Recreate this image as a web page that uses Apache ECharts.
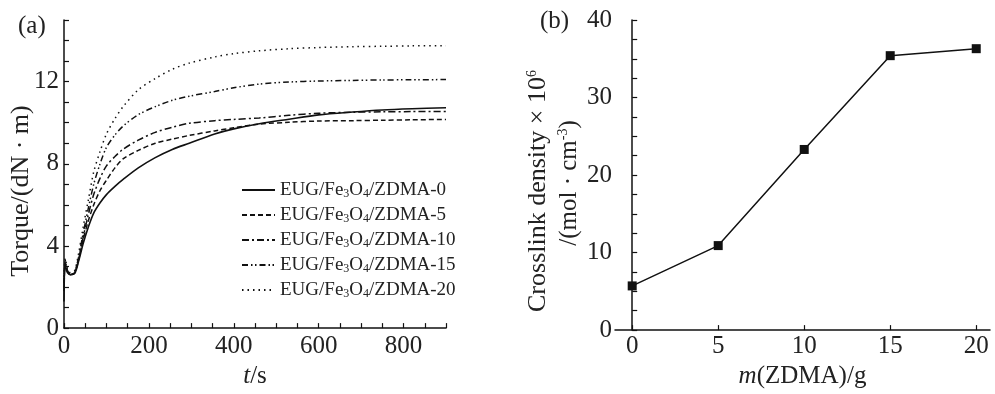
<!DOCTYPE html>
<html>
<head>
<meta charset="utf-8">
<script src="https://cdn.jsdelivr.net/npm/echarts@6/dist/echarts.min.js"></script>
<style>
  html, body { margin: 0; padding: 0; background: #fff; }
  #chart { width: 995px; height: 394px; }
</style>
</head>
<body>
<div id="chart"></div>
<script>
// panel (a): torque vs time
const timeS = [0, 3, 8, 15, 25, 35, 45, 57, 70, 85, 100, 120, 140, 175, 215, 255, 295, 355, 400, 460, 530, 600, 680, 750, 820, 900];
const torque0 = [1.3, 3.0, 2.7, 2.6, 2.65, 3.3, 4.1, 4.9, 5.6, 6.1, 6.5, 6.9, 7.25, 7.8, 8.3, 8.7, 9.0, 9.45, 9.7, 9.95, 10.17, 10.38, 10.52, 10.62, 10.68, 10.73];
const torque5 = [1.8, 3.1, 2.8, 2.6, 2.7, 3.4, 4.3, 5.2, 6.0, 6.7, 7.2, 7.8, 8.25, 8.65, 9.0, 9.2, 9.38, 9.6, 9.75, 9.93, 10.02, 10.08, 10.1, 10.12, 10.14, 10.16];
const torque10 = [2.0, 3.2, 2.8, 2.6, 2.7, 3.4, 4.4, 5.5, 6.5, 7.3, 7.9, 8.35, 8.72, 9.15, 9.53, 9.78, 9.97, 10.1, 10.16, 10.23, 10.36, 10.46, 10.51, 10.53, 10.54, 10.55];
const torque15 = [2.2, 3.3, 2.8, 2.6, 2.75, 3.5, 4.6, 5.8, 7.0, 8.0, 8.8, 9.4, 9.85, 10.39, 10.78, 11.09, 11.29, 11.52, 11.7, 11.88, 11.98, 12.03, 12.06, 12.08, 12.09, 12.1];
const torque20 = [2.5, 3.4, 2.9, 2.7, 2.8, 3.7, 4.9, 6.2, 7.6, 8.6, 9.45, 10.2, 10.8, 11.6, 12.15, 12.6, 12.9, 13.2, 13.36, 13.5, 13.6, 13.66, 13.7, 13.72, 13.74, 13.75];
const seriesNames = ["ZDMA-0", "ZDMA-5", "ZDMA-10", "ZDMA-15", "ZDMA-20"];

// panel (b): crosslink density vs ZDMA mass
const zdmaMass = [0, 5, 10, 15, 20];
const crosslink = [5.7, 10.9, 23.3, 35.4, 36.3];

const xTicksB = [0, 5, 10, 15, 20];

const FONT = "Liberation Serif";
const black = "#111";
const TXT = "#222";

const pair = (xs, ys) => xs.map((x, i) => [x, ys[i]]);

// dash patterns roughly like the printed figure
const dashes = ["solid", [5, 3], [7, 3, 2, 3], [6, 3, 1.5, 2.5, 1.5, 3], [1.5, 4]];
const allTorque = [torque0, torque5, torque10, torque15, torque20];

const lineSeries = seriesNames.map((n, i) => ({
  name: n,
  type: "line",
  xAxisIndex: 0,
  yAxisIndex: 0,
  symbol: "none",
  smooth: 0.3,
  data: pair(timeS, allTorque[i]),
  lineStyle: { color: black, width: i === 0 ? 1.6 : 1.5, type: dashes[i] },
  itemStyle: { color: black },
}));

const chart = echarts.init(document.getElementById("chart"), null, { renderer: "canvas" });

const axisCommon = {
  axisLine: { show: true, lineStyle: { color: black, width: 1.5 } },
  axisTick: { show: true, inside: true, length: 5, lineStyle: { color: black, width: 1.2 } },
  splitLine: { show: false },
  axisLabel: { color: TXT, fontFamily: FONT, fontSize: 25 },
};

const supStyle = { fontFamily: FONT, fontSize: 14, color: TXT, verticalAlign: "top", lineHeight: 14, padding: [0, 0, 9, 0] };

chart.setOption({
  animation: false,
  backgroundColor: "#fff",
  textStyle: { fontFamily: FONT },
  grid: [
    { left: 64, right: 549, top: 20, bottom: 54 },
    { left: 615, right: 5, top: 20, bottom: 54 },
  ],
  legend: {
    left: 236,
    top: 175,
    orient: "vertical",
    itemWidth: 33,
    itemHeight: 14,
    itemGap: 5,
    data: seriesNames,
    itemStyle: { opacity: 0, color: "transparent", borderWidth: 0 },
    formatter: (n) => "EUG/Fe{sub|3}O{sub|4}/" + n,
    textStyle: {
      color: TXT,
      fontFamily: FONT,
      fontSize: 19,
      lineHeight: 20,
      rich: {
        sub: { fontFamily: FONT, fontSize: 12, color: TXT, verticalAlign: "bottom", lineHeight: 14, padding: [6, 0, 0, 0] },
      },
    },
  },
  xAxis: [
    {
      ...axisCommon,
      type: "value",
      gridIndex: 0,
      min: 0,
      max: 900,
      interval: 50,
      axisLabel: { ...axisCommon.axisLabel, margin: 6, formatter: (v) => (v % 200 === 0 ? v : "") },
      name: "{i|t}/s",
      nameLocation: "middle",
      nameGap: 26,
      nameTextStyle: {
        color: TXT, fontFamily: FONT, fontSize: 25,
        rich: { i: { fontFamily: FONT, fontSize: 25, fontStyle: "italic", color: TXT } },
      },
    },
    {
      ...axisCommon,
      type: "value",
      gridIndex: 1,
      min: -1,
      max: 20.8,
      axisTick: { ...axisCommon.axisTick, customValues: xTicksB },
      axisLabel: { ...axisCommon.axisLabel, margin: 4, customValues: xTicksB },
      name: "{i|m}(ZDMA)/g",
      nameLocation: "middle",
      nameGap: 31,
      nameTextStyle: {
        color: TXT, fontFamily: FONT, fontSize: 25,
        rich: { i: { fontFamily: FONT, fontSize: 25, fontStyle: "italic", color: TXT } },
      },
    },
  ],
  yAxis: [
    {
      ...axisCommon,
      type: "value",
      gridIndex: 0,
      min: 0,
      max: 15,
      interval: 1,
      axisLabel: { ...axisCommon.axisLabel, margin: 5, formatter: (v) => (v % 4 === 0 ? v : "") },
    },
    {
      ...axisCommon,
      type: "value",
      gridIndex: 1,
      min: 0,
      max: 40,
      interval: 2.5,
      axisLabel: { ...axisCommon.axisLabel, margin: 3, formatter: (v) => (v % 10 === 0 ? v : "") },
    },
  ],
  graphic: [
    { type: "text", left: 18, top: 14, style: { text: "(a)", font: "25px 'Liberation Serif'", fill: TXT } },
    { type: "text", left: 540, top: 9, style: { text: "(b)", font: "25px 'Liberation Serif'", fill: TXT } },
    // rotated y titles, placed like the print
    {
      type: "text", x: 21, y: 191, rotation: Math.PI / 2,
      style: {
        text: "Torque/(dN · m)",
        font: "26px 'Liberation Serif'", fill: TXT, align: "center", verticalAlign: "middle",
      },
    },
    {
      type: "text", x: 538, y: 191, rotation: Math.PI / 2,
      style: {
        text: "Crosslink density × 10{sup|6}",
        font: "26px 'Liberation Serif'", fill: TXT, align: "center", verticalAlign: "middle",
        rich: { sup: supStyle },
      },
    },
    {
      type: "text", x: 569, y: 183, rotation: Math.PI / 2,
      style: {
        text: "/(mol · cm{sup|-3})",
        font: "25px 'Liberation Serif'", fill: TXT, align: "center", verticalAlign: "middle",
        rich: { sup: supStyle },
      },
    },
  ],
  series: [
    ...lineSeries,
    {
      name: "crosslink",
      type: "line",
      xAxisIndex: 1,
      yAxisIndex: 1,
      data: pair(zdmaMass, crosslink),
      symbol: "rect",
      symbolSize: 9,
      lineStyle: { color: black, width: 1.5 },
      itemStyle: { color: black },
    },
  ],
});
</script>
</body>
</html>
